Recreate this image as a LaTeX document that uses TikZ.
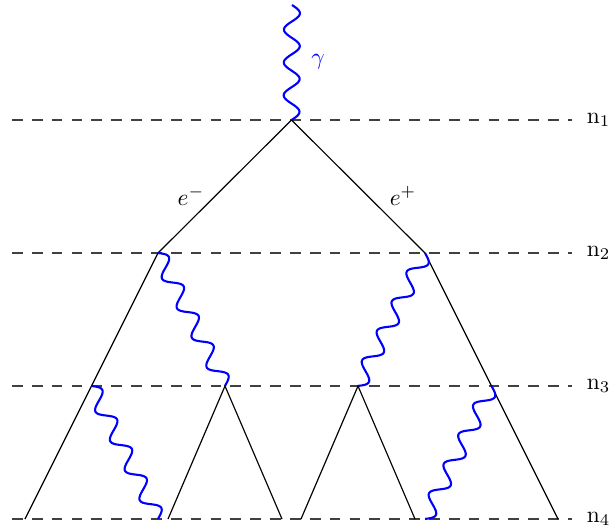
\documentclass[tikz,border=0pt]{standalone}
\usetikzlibrary{calc}
\begin{document}
\begin{tikzpicture}[x=0.01504cm,y=-0.01504cm,
  level/.style={draw=black!75,line width=0.5pt,dash pattern=on 4.6pt off 3.9pt},
  fermion/.style={draw=black,line width=0.5pt},
  photon/.style={draw=blue,line width=0.9pt,
    to path={let \p1=(\tikztostart), \p2=(\tikztotarget),
      \n1={veclen(\x2-\x1,\y2-\y1)}, \n2={atan2(\y2-\y1,\x2-\x1)},
      \n3={round(2*\n1/14.1)*180} in
      {[shift={(\p1)},rotate=\n2]
        plot[domain=0:\n1,samples=140,smooth,variable=\t]
          ({\t*1pt},{3.4pt*sin((\t/\n1)*\n3)})}}},
  lvl/.style={anchor=west,inner sep=1pt},
  lbl/.style={inner sep=1pt}]
\useasboundingbox (0,0) rectangle (611,531);
% level lines
\foreach \y/\n in {120/1,253/2,386/3,519/4}{
  \coordinate (L\n) at (12,\y);
  \coordinate (R\n) at (572,\y);
  \draw[level] (L\n) -- (R\n);
  \node[lvl] (n\n) at (584,\y) {$\mathrm{n}_{\n}$};
}
% vertices
\coordinate (top) at (292,5);
\coordinate (v0) at (291.5,120);
\coordinate (a) at (158,253);
\coordinate (b) at (425,253);
\coordinate (a3) at (91.5,386);
\coordinate (b3) at (491.5,386);
\coordinate (c) at (225,386);
\coordinate (d) at (358,386);
\coordinate (a4) at (25,519);
\coordinate (b4) at (558,519);
\coordinate (c1) at (168,519);
\coordinate (c2) at (282,519);
\coordinate (d1) at (301,519);
\coordinate (d2) at (415,519);
\coordinate (p1) at (158,519);
\coordinate (p2) at (425,519);
% photon in
\draw[photon] (top) to (v0);
\node[lbl,text=blue] (gam) at (318,62) {$\gamma$};
% pair
\draw[fermion] (v0) -- (a);
\draw[fermion] (v0) -- (b);
\node[lbl] (em) at (191,196) {$e^-$};
\node[lbl] (ep) at (403,196) {$e^+$};
% outer legs
\draw[fermion] (a) -- (a4);
\draw[fermion] (b) -- (b4);
% photons
\draw[photon] (a) to (c);
\draw[photon] (b) to (d);
\draw[photon] (a3) to (p1);
\draw[photon] (b3) to (p2);
% triangles
\draw[fermion] (c1) -- (c) -- (c2);
\draw[fermion] (d1) -- (d) -- (d2);
\end{tikzpicture}
\end{document}
